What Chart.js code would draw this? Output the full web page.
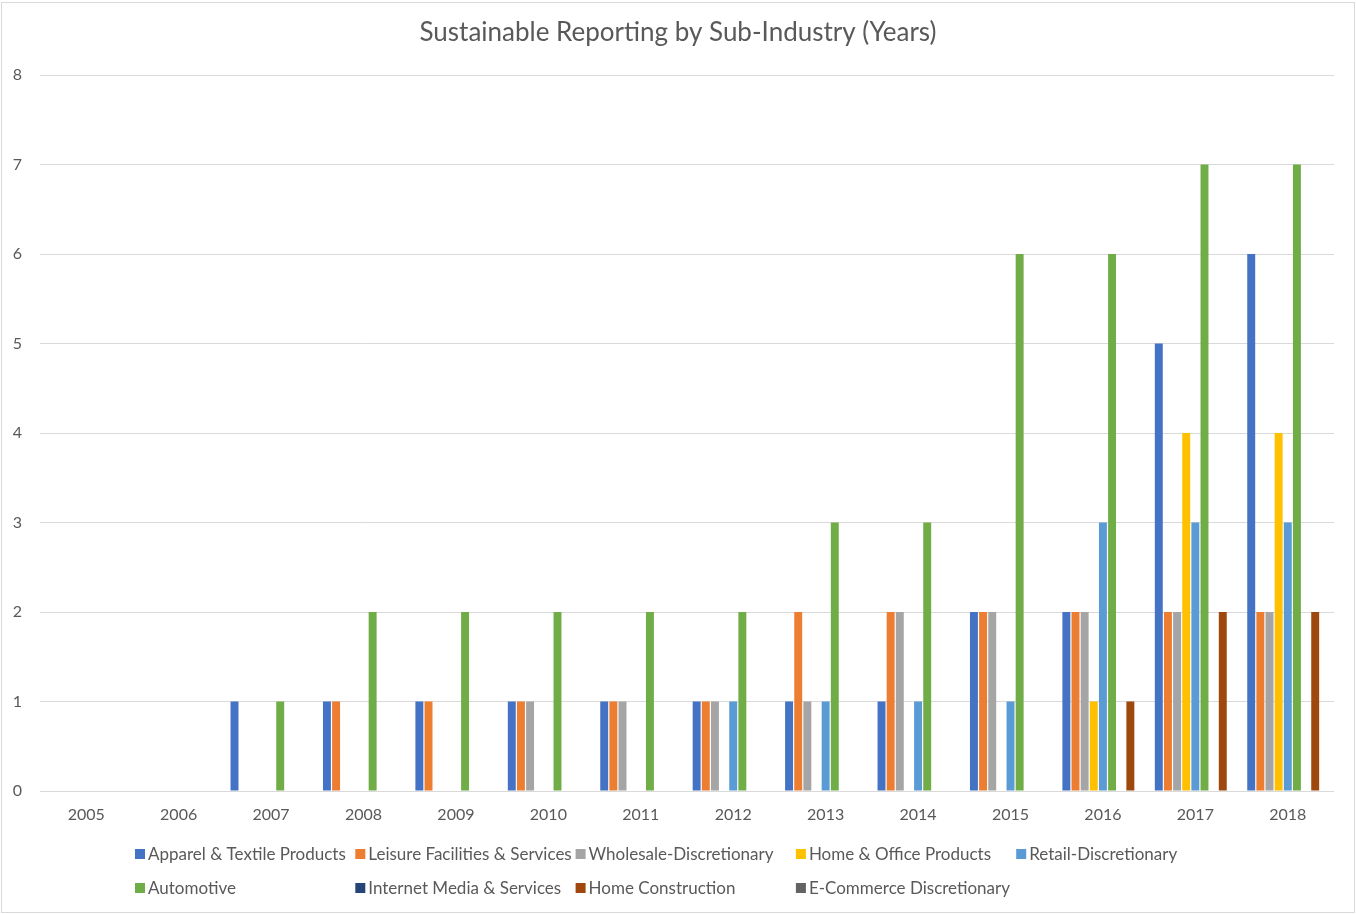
<!DOCTYPE html>
<html>
<head>
<meta charset="utf-8">
<script src="https://cdn.jsdelivr.net/npm/chart.js@4.4.0/dist/chart.umd.min.js"></script>
<style>
  html, body { margin: 0; padding: 0; background: #fff; }
  #wrap { position: relative; width: 1356px; height: 914px; }
  canvas { display: block; }
  #frame { position: absolute; left: 1px; top: 2px; width: 1352px; height: 909px; border: 1px solid #d9d9d9; pointer-events: none; }
</style>
</head>
<body>
<div id="wrap">
<canvas id="c" width="1356" height="914"></canvas>
<div id="frame"></div>
</div>
<script>
const years = ['2005','2006','2007','2008','2009','2010','2011','2012','2013','2014','2015','2016','2017','2018'];
const seriesNames = ['Apparel & Textile Products','Leisure Facilities & Services','Wholesale-Discretionary','Home & Office Products','Retail-Discretionary','Automotive','Internet Media & Services','Home Construction','E-Commerce Discretionary'];
const seriesColors = ['#4472C4','#ED7D31','#A5A5A5','#FFC000','#5B9BD5','#70AD47','#264478','#9E480E','#636363'];
const apparel        = [0,0,1,1,1,1,1,1,1,1,2,2,5,6];
const leisure        = [0,0,0,1,1,1,1,1,2,2,2,2,2,2];
const wholesale      = [0,0,0,0,0,1,1,1,1,2,2,2,2,2];
const homeOffice     = [0,0,0,0,0,0,0,0,0,0,0,1,4,4];
const retail         = [0,0,0,0,0,0,0,1,1,1,1,3,3,3];
const automotive     = [0,0,1,2,2,2,2,2,3,3,6,6,7,7];
const internetMedia  = [0,0,0,0,0,0,0,0,0,0,0,0,0,0];
const homeConstr     = [0,0,0,0,0,0,0,0,0,0,0,1,2,2];
const ecommerce      = [0,0,0,0,0,0,0,0,0,0,0,0,0,0];
const yTicks = [0,1,2,3,4,5,6,7,8];
const titleText = 'Sustainable Reporting by Sub-Industry (Years)';

const seriesValues = [apparel, leisure, wholesale, homeOffice, retail, automotive, internetMedia, homeConstr, ecommerce];
const FONT = 'Lato, "Open Sans", sans-serif';
const TXT = '#595959';

const datasets = seriesNames.map((n, i) => ({
  label: n,
  data: seriesValues[i],
  backgroundColor: seriesColors[i],
  borderWidth: 0,
  categoryPercentage: 0.89,
  barPercentage: 0.87
}));

const customDecor = {
  id: 'customDecor',
  afterDraw(chart) {
    const ctx = chart.ctx;
    ctx.save();
    // title
    ctx.fillStyle = TXT;
    ctx.font = '26px ' + FONT;
    ctx.textAlign = 'center';
    ctx.textBaseline = 'middle';
    ctx.fillText(titleText, 678, 33);
    // legend
    ctx.font = '17px ' + FONT;
    ctx.textAlign = 'left';
    const colX0 = 135, colStep = 220.3, perRow = 5;
    const rowsY = [854, 888];
    chart.data.datasets.forEach((ds, i) => {
      const r = Math.floor(i / perRow), c = i % perRow;
      const x = colX0 + c * colStep, y = rowsY[r];
      ctx.fillStyle = ds.backgroundColor;
      ctx.fillRect(x, y - 5, 10, 10);
      ctx.fillStyle = TXT;
      ctx.fillText(ds.label, x + 13, y + 1);
    });
    ctx.restore();
  }
};

new Chart(document.getElementById('c'), {
  type: 'bar',
  data: { labels: years, datasets },
  options: {
    responsive: false,
    animation: false,
    layout: { padding: { top: 75, right: 22, bottom: 83, left: 0 } },
    plugins: { legend: { display: false }, title: { display: false }, tooltip: { enabled: false } },
    scales: {
      x: {
        grid: { display: false },
        border: { display: false },
        ticks: { color: TXT, font: { family: FONT, size: 16 }, padding: 6, maxRotation: 0 },
        afterFit(s) { s.height = 40; }
      },
      y: {
        min: 0, max: 8,
        afterBuildTicks(s) { s.ticks = yTicks.map(v => ({ value: v })); },
        grid: { color: '#d9d9d9', lineWidth: 1, drawTicks: false },
        border: { display: false },
        ticks: { color: TXT, font: { family: FONT, size: 16 }, padding: 18 },
        afterFit(s) { s.width = 40; }
      }
    }
  },
  plugins: [customDecor]
});
</script>
</body>
</html>
